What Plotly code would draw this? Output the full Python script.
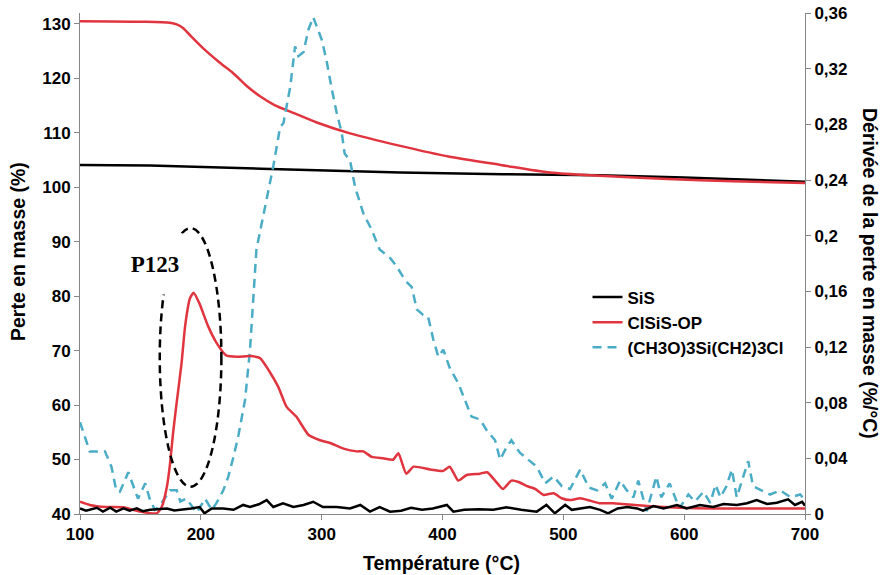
import plotly.graph_objects as go

# ---- Data ----
# TG curves (left axis, Perte en masse %)
sis_tg_T = [100, 158, 250, 365, 450, 530, 600, 698, 700]
sis_tg_L = [104.1, 104.0, 103.4, 102.7, 102.4, 102.2, 101.8, 101.0, 101.0]

clsis_tg_T = [100, 150, 174.5, 180, 185.5, 192, 202, 215, 227, 238, 249, 261, 274, 296, 323.5,
              365, 406, 448, 489, 530, 586, 640, 700]
clsis_tg_L = [130.5, 130.4, 130.2, 129.9, 129.2, 127.7, 125.5, 123.0, 120.9, 118.6, 116.7,
              115.1, 113.9, 111.9, 109.9, 107.6, 105.6, 104.1, 102.7, 102.1, 101.5, 101.1, 100.8]

# Derivative curves (right axis, %/°C)
silane_T = [100, 108, 120.7, 126, 130, 133, 140, 144, 148, 154,
            158, 162, 166, 174.5, 180, 183, 188, 196.6, 203.5, 209,
            213, 218.6, 222.8, 227, 231, 236.6, 240.7, 246, 254.5, 260,
            265.6, 268.4, 274, 278, 280.7, 285, 289, 293, 300, 304,
            308, 312.5, 316.6, 319, 323.5, 327.6, 334.5, 341.5, 348, 356.6,
            362, 369, 374.6, 378.7, 384, 388, 392.5, 396.6, 400.7, 406,
            413, 418.7, 424, 431, 436.7, 443.5, 447.7, 453, 457, 464,
            471, 478, 485, 492, 498.7, 505.6, 514, 521, 528, 534.6,
            540, 547, 552.5, 558, 562, 569, 577, 581, 588, 596,
            603.5, 609, 616, 621.6, 626, 630, 635, 639.5, 643.5, 649,
            653, 657, 664, 671, 679.5, 688, 696, 700]
silane_D = [0.066, 0.045, 0.045, 0.034, 0.017, 0.016, 0.030, 0.021, 0.011, 0.022,
            0.010, 0.003, 0.006, 0.017, 0.017, 0.009, 0.011, 0.001, 0.011, 0.003,
            0.008, 0.017, 0.027, 0.041, 0.056, 0.082, 0.118, 0.190, 0.228, 0.250,
            0.278, 0.281, 0.307, 0.336, 0.329, 0.332, 0.348, 0.357, 0.341, 0.326,
            0.307, 0.288, 0.274, 0.259, 0.254, 0.235, 0.216, 0.204, 0.190, 0.184,
            0.178, 0.168, 0.163, 0.147, 0.143, 0.142, 0.125, 0.113, 0.118, 0.105,
            0.094, 0.082, 0.070, 0.068, 0.060, 0.053, 0.039, 0.048, 0.053, 0.044,
            0.039, 0.034, 0.022, 0.027, 0.020, 0.018, 0.032, 0.019, 0.017, 0.022,
            0.011, 0.024, 0.017, 0.012, 0.024, 0.002, 0.027, 0.012, 0.022, 0.004,
            0.014, 0.009, 0.016, 0.008, 0.021, 0.012, 0.020, 0.032, 0.012, 0.027,
            0.038, 0.020, 0.017, 0.014, 0.017, 0.012, 0.014, 0.010]

clsis_d_T = [100, 108, 122, 136, 150, 163.5, 167.6, 172, 174.5, 177,
             180, 184, 187, 191, 194, 199, 206, 213, 221, 230,
             240.7, 249, 256, 264, 271, 279, 289, 298.7, 307, 318,
             329, 334.5, 341.5, 351, 359, 363.5, 370, 376, 389.7, 400.7,
             406, 413, 420, 431, 437, 443.5, 450, 457, 463, 470,
             476.7, 483.6, 492, 498.7, 505.6, 514, 522, 530, 541.5, 569,
             596.7, 624, 652, 679.5, 700]
clsis_d_D = [0.0088, 0.0065, 0.005, 0.0048, 0.0017, 0.0005, 0.005, 0.020, 0.036, 0.058,
             0.080, 0.108, 0.135, 0.155, 0.159, 0.151, 0.135, 0.123, 0.114, 0.113,
             0.1135, 0.112, 0.1035, 0.0915, 0.077, 0.070, 0.057, 0.053, 0.051, 0.047,
             0.045, 0.045, 0.041, 0.040, 0.039, 0.0436, 0.029, 0.034, 0.032, 0.031,
             0.034, 0.024, 0.028, 0.029, 0.030, 0.024, 0.018, 0.024, 0.023, 0.020,
             0.018, 0.0137, 0.0149, 0.0113, 0.010, 0.0113, 0.0096, 0.0077, 0.0077, 0.0057,
             0.0045, 0.004, 0.004, 0.004, 0.004]

sis_d_T = [100, 105, 114, 119, 125, 130, 136, 141, 147, 152,
           158, 165, 172, 178, 185, 192, 199, 203, 209, 218.6,
           227, 235, 240.7, 248, 254.5, 260, 268, 276.6, 285, 293,
           301, 312.5, 323.5, 332, 340, 348, 356.6, 365.7, 374, 383,
           392, 403.6, 409, 418, 430, 442, 453, 465, 478, 486,
           493, 501.5, 507, 514, 522, 530.5, 537, 545, 553, 561,
           566, 574.6, 583, 594, 602, 613, 624, 632.6, 643.5, 652,
           660, 668.7, 676.7, 686, 691.7, 697.6, 700]
sis_d_D = [0.004, 0.0024, 0.0045, 0.0017, 0.0045, 0.0017, 0.004, 0.0024, 0.004, 0.002,
           0.003, 0.0035, 0.004, 0.0025, 0.003, 0.004, 0.005, 0.0005, 0.004, 0.004,
           0.003, 0.0065, 0.005, 0.007, 0.010, 0.005, 0.0077, 0.005, 0.0065, 0.0088,
           0.005, 0.005, 0.004, 0.0065, 0.0017, 0.005, 0.0017, 0.0024, 0.0045, 0.003,
           0.004, 0.0065, 0.0017, 0.003, 0.0035, 0.003, 0.0048, 0.003, 0.0017, 0.0065,
           0.0005, 0.0065, 0.003, 0.004, 0.005, 0.003, 0.0005, 0.004, 0.005, 0.004,
           0.0024, 0.0057, 0.004, 0.0065, 0.004, 0.0065, 0.005, 0.0072, 0.0065, 0.0077,
           0.010, 0.0072, 0.0081, 0.0105, 0.0065, 0.0088, 0.006]

x_ticks = [100, 200, 300, 400, 500, 600, 700]
y_left_ticks = [40, 50, 60, 70, 80, 90, 100, 110, 120, 130]
y_right_ticks = [0, 0.04, 0.08, 0.12, 0.16, 0.2, 0.24, 0.28, 0.32, 0.36]
y_right_labels = ["0", "0,04", "0,08", "0,12", "0,16", "0,2", "0,24", "0,28", "0,32", "0,36"]

names = ["SiS", "ClSiS-OP", "(CH3O)3Si(CH2)3Cl"]

BLACK = "#000000"
RED = "#E0353F"
BLUE = "#4BACC6"
AXIS = "#868686"
FONT = "Liberation Sans, Arial, sans-serif"

fig = go.Figure()
fig.add_trace(go.Scatter(x=sis_tg_T, y=sis_tg_L, name=names[0], mode="lines",
                         line=dict(color=BLACK, width=2.5)))
fig.add_trace(go.Scatter(x=clsis_tg_T, y=clsis_tg_L, name=names[1], mode="lines",
                         line=dict(color=RED, width=2.5, shape="spline", smoothing=0.8)))
fig.add_trace(go.Scatter(x=silane_T, y=silane_D, name=names[2], mode="lines", yaxis="y2",
                         line=dict(color=BLUE, width=2.5, dash="9px,6px")))
fig.add_trace(go.Scatter(x=clsis_d_T, y=clsis_d_D, name=names[1], mode="lines", yaxis="y2",
                         showlegend=False,
                         line=dict(color=RED, width=2.5, shape="spline", smoothing=0.5)))
fig.add_trace(go.Scatter(x=sis_d_T, y=sis_d_D, name=names[0], mode="lines", yaxis="y2",
                         showlegend=False, line=dict(color=BLACK, width=2.5)))

tickfont = dict(family=FONT, size=17, color="#000000", weight="bold")
axis_common = dict(showline=True, linecolor=AXIS, linewidth=1, ticks="outside",
                   ticklen=5, tickcolor=AXIS, tickfont=tickfont, showgrid=False,
                   zeroline=False, automargin=False)
title_font = dict(family=FONT, size=19.5, color="black", weight="bold")

fig.update_layout(
    template="none",
    width=885, height=575,
    margin=dict(l=80, r=80, t=13, b=61, pad=0, autoexpand=False),
    plot_bgcolor="white", paper_bgcolor="white",
    xaxis=dict(range=[100, 700], tickvals=x_ticks, **axis_common),
    yaxis=dict(range=[40, 132], tickvals=y_left_ticks, **axis_common),
    yaxis2=dict(range=[0, 0.36], tickvals=y_right_ticks, ticktext=y_right_labels,
                overlaying="y", side="right", **axis_common),
    legend=dict(x=0.70, y=0.468, xanchor="left", yanchor="top",
                bgcolor="rgba(0,0,0,0)",
                font=dict(family=FONT, size=17, color="#000000", weight="bold"),
                tracegroupgap=0),
    showlegend=True,
    shapes=[dict(type="circle", xref="x", yref="y", x0=166, x1=217, y0=45, y1=92.5,
                 line=dict(color="black", width=2.5, dash="8px,5px"))],
    annotations=[
        dict(text="P123", x=162, y=86, xref="x", yref="y", showarrow=False,
             font=dict(family="Liberation Serif, Times New Roman, serif", size=23,
                       color="black", weight="bold"),
             bgcolor="white", width=58, height=58),
        dict(text="Perte en masse (%)", x=-0.0855, y=0.523, xref="paper", yref="paper",
             xanchor="center", yanchor="middle",
             showarrow=False, textangle=-90, font=title_font),
        dict(text="Dérivée de la perte en masse (%/°C)", x=1.0897, y=0.481,
             xref="paper", yref="paper", xanchor="center", yanchor="middle",
             showarrow=False, textangle=90, font=title_font),
        dict(text="Température (°C)", x=0.499, y=-0.098, xref="paper", yref="paper",
             xanchor="center", yanchor="middle",
             showarrow=False, font=title_font),
    ],
)

fig.write_html("out.html", config={"displayModeBar": False},
               post_script="document.body.style.margin='0px';")
